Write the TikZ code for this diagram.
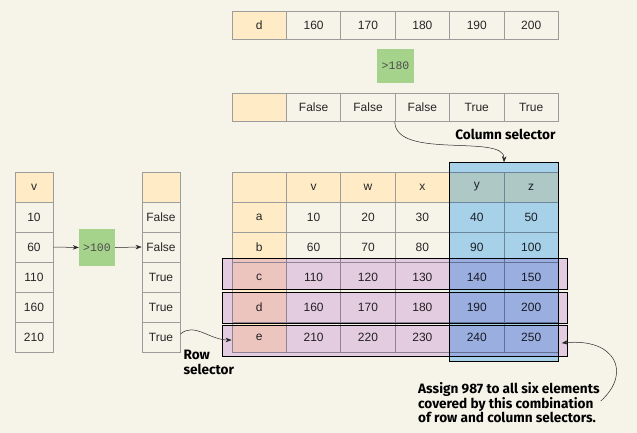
\documentclass[tikz,border=0pt]{standalone}
\usepackage{fontspec}
\setmainfont{Liberation Sans}
\newfontfamily\notefont{Fira Sans}
\newfontfamily\codefont{Liberation Mono}
\usetikzlibrary{arrows.meta,positioning,fit}

\definecolor{paper}{HTML}{F6F4E9}
\definecolor{hdr}{HTML}{FFEBC6}
\definecolor{opgreen}{HTML}{A6D38C}
\definecolor{rowpink}{HTML}{EDD6F6}
\definecolor{colblue}{HTML}{AEDAFF}
\definecolor{gridgray}{HTML}{9C9C9C}

\tikzset{
  cell/.style={draw=gridgray, line width=0.8pt, fill=paper, minimum width=54.4pt,
    minimum height=30pt, inner sep=0pt, text=black!85,
    font=\fontsize{12}{14}\selectfont},
  hcell/.style={cell, fill=hdr},
  thin cell/.style={minimum width=38pt},
  flat cell/.style={minimum height=28pt},
  opbox/.style={fill=opgreen, inner sep=0pt, text=black!70,
    font=\codefont\fontsize{11.5}{13}\selectfont},
  rowsel/.style={draw=black, line width=0.7pt, fill=rowpink, inner xsep=9pt, inner ysep=0pt},
  colsel/.style={draw=black, line width=0.7pt, fill=colblue, inner xsep=0pt, inner ysep=9pt},
  note/.style={font=\notefont\bfseries\fontsize{13.6}{14.8}\selectfont, align=left, inner sep=0pt},
  arr/.style={-{Stealth[length=6pt,width=4.5pt]}, line width=0.5pt, black!85},
}

\begin{document}
\begin{tikzpicture}[x=1pt,y=-1pt]

        %Background
        \fill[paper] (0,0) rectangle (637,433);

        %Row d on top
        \foreach \lbl [count=\col from 0] in {d,160,170,180,190,200}
          \node[cell, flat cell] (d\col) at ({232+54.4*(\col+0.5)},25) {\lbl};
        \node[hcell, flat cell] at (d0) {d};

        %Comparison >180
        \node[opbox, minimum width=37pt, minimum height=34pt] (gt180) at (395.5,66) {>180};

        %Column selector row
        \foreach \lbl [count=\col from 0] in {{},False,False,False,True,True}
          \node[cell, flat cell] (s\col) at ({232+54.4*(\col+0.5)},107) {\lbl};
        \node[hcell, flat cell] at (s0) {};

        %Series v on the left
        \node[hcell, thin cell] (v0) at (34,187) {v};
        \foreach \lbl [count=\row] in {10,60,110,160,210}
          \node[cell, thin cell] (v\row) at (34,{187+30*\row}) {\lbl};

        %Comparison >100
        \node[opbox, minimum width=36pt, minimum height=37pt] (gt100) at (97,247.5) {>100};

        %Row selector column
        \node[hcell, thin cell] (b0) at (161,187) {};
        \foreach \lbl [count=\row] in {False,False,True,True,True}
          \node[cell, thin cell] (b\row) at (161,{187+30*\row}) {\lbl};

        %Data frame
        \foreach \lbl [count=\col from 0] in {{},v,w,x,y,z}
          \node[hcell] (t-0-\col) at ({232+54.4*(\col+0.5)},187) {\lbl};
        \foreach \lbl [count=\row] in {a,b,c,d,e}{
          \node[hcell] (t-\row-0) at (259.2,{187+30*\row}) {\lbl};
          \foreach \col in {1,...,5}{
            \pgfmathtruncatemacro\val{10*(5*(\row-1)+\col)}
            \node[cell] (t-\row-\col) at ({232+54.4*(\col+0.5)},{187+30*\row}) {\val};
          }
        }

        %Selected rows and columns
        \begin{scope}[blend mode=multiply]
          \node[rowsel, fit=(t-3-0)(t-3-5), yshift=3pt] (rowc) {};
          \node[rowsel, fit=(t-4-0)(t-4-5), yshift=-1pt] (rowd) {};
          \node[rowsel, fit=(t-5-0)(t-5-5), yshift=-3.5pt] (rowe) {};
          \node[colsel, fit=(t-0-4)(t-5-5)] (cols) {};
        \end{scope}

        %Arrows through >100
        \draw[arr] (v2.east) -- (gt100.west);
        \draw[arr] (gt100.east) -- (b2.west);

        %Column selector
        \draw[arr] (s3.south west) .. controls +(0,39) and +(1,-29) .. (cols.north);
        \node[note, anchor=east] (colnote) at ([xshift=-3pt,yshift=-13pt]s5.south east) {Column selector};

        %Row selector
        \draw[arr] ([yshift=3pt]b5.east) .. controls +(14,-12) and +(-22,0) .. ([yshift=-3pt]t-5-0.west);
        \node[note, anchor=west] (rownote) at ([xshift=3pt,yshift=-10pt]b5.south east) {Row\\selector};

        %Note on the assignment
        \node[note, anchor=north west] (assign) at (418,382)
          {Assign 987 to all six elements\\covered by this combination\\of row and column selectors.};
        \coordinate (assigntip) at ([xshift=3pt,yshift=-6pt]t-5-5.east);
        \draw[arr] ([xshift=1pt,yshift=-19pt]assign.north east) .. controls +(31,-28) and +(54,-5) .. (assigntip);

\end{tikzpicture}
\end{document}
